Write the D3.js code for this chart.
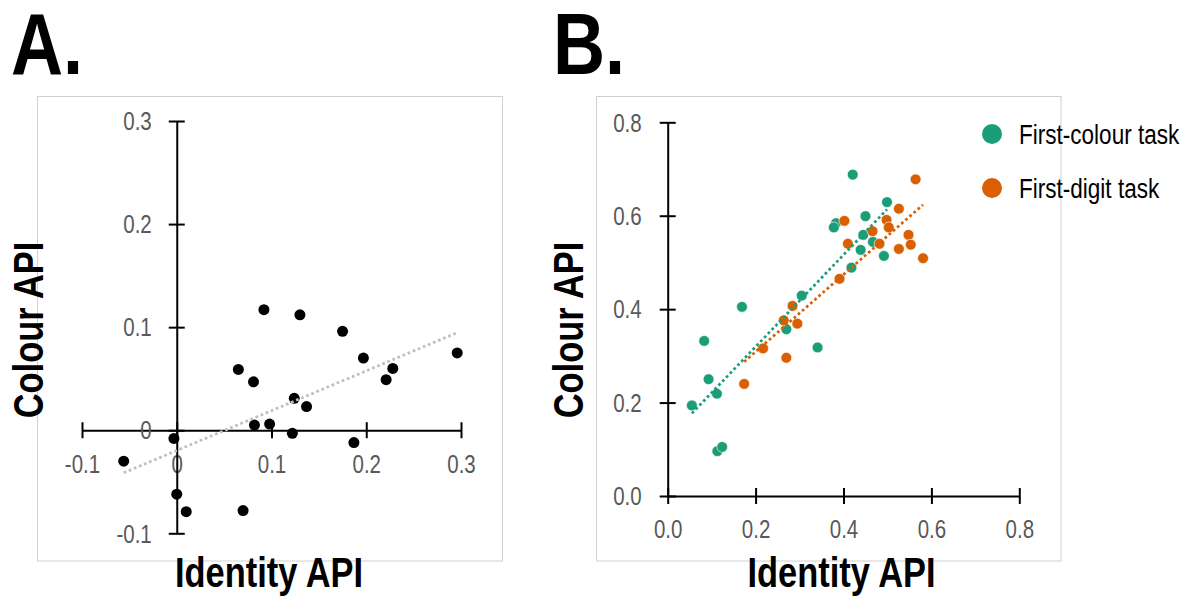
<!DOCTYPE html>
<html>
<head>
<meta charset="utf-8">
<script src="https://cdn.jsdelivr.net/npm/d3@7"></script>
<style>
  html, body { margin: 0; padding: 0; background: #fff; }
  svg { display: block; }
  text { font-family: 'Liberation Sans', Arial, sans-serif; }
</style>
</head>
<body>
<svg id="chart" width="1191" height="596"></svg>
<script>
// ---------- Data ----------
// Panel A: Identity API (x) vs Colour API (y)
const aIdentity = [0.092, 0.130, 0.175, 0.197, 0.296, 0.228, 0.221, 0.065, 0.081, 0.124,
                   0.137, 0.082, 0.098, 0.122, 0.187, -0.003, -0.056, 0.000, 0.010, 0.070];
const aColour   = [0.117, 0.112, 0.096, 0.070, 0.075, 0.060, 0.049, 0.059, 0.047, 0.031,
                   0.023, 0.005, 0.006, -0.003, -0.012, -0.008, -0.030, -0.062, -0.079, -0.078];
const aTicks = [-0.1, 0, 0.1, 0.2, 0.3];
const aTickLabels = ["-0.1", "0", "0.1", "0.2", "0.3"];

// Panel B
const seriesNames = ["First-colour task", "First-digit task"];
const seriesColors = ["#1b9e77", "#d95f02"];
const colourTaskIdentity = [0.421, 0.499, 0.450, 0.383, 0.378, 0.445, 0.467, 0.439, 0.492, 0.418,
                            0.305, 0.169, 0.270, 0.083, 0.341, 0.093, 0.112, 0.055, 0.113, 0.124];
const colourTaskColour   = [0.688, 0.629, 0.599, 0.584, 0.575, 0.559, 0.544, 0.527, 0.514, 0.489,
                            0.429, 0.405, 0.357, 0.332, 0.318, 0.250, 0.219, 0.194, 0.096, 0.105];
const digitTaskIdentity  = [0.564, 0.526, 0.402, 0.498, 0.503, 0.466, 0.548, 0.410, 0.482, 0.553,
                            0.526, 0.581, 0.391, 0.284, 0.264, 0.295, 0.217, 0.270, 0.174];
const digitTaskColour    = [0.678, 0.615, 0.589, 0.591, 0.575, 0.567, 0.559, 0.540, 0.540, 0.538,
                            0.529, 0.509, 0.465, 0.407, 0.376, 0.369, 0.316, 0.296, 0.240];
const bTicks = [0, 0.2, 0.4, 0.6, 0.8];
const bTickLabels = ["0.0", "0.2", "0.4", "0.6", "0.8"];

// ---------- Helpers ----------
const NARROW = 0.82;   // horizontal condensing (Arial Narrow look)
function regression(xs, ys) {
  const mx = d3.mean(xs), my = d3.mean(ys);
  let sxy = 0, sxx = 0;
  for (let i = 0; i < xs.length; i++) { sxy += (xs[i] - mx) * (ys[i] - my); sxx += (xs[i] - mx) ** 2; }
  const slope = sxy / sxx, icpt = my - slope * mx;
  const [x0, x1] = d3.extent(xs);
  return [[x0, icpt + slope * x0], [x1, icpt + slope * x1]];
}
function narrowText(parent, x, y, str, opts) {
  const t = parent.append("text")
    .attr("transform", `translate(${x},${y})${opts.rotate ? " rotate(-90)" : ""} scale(${NARROW},1)`)
    .attr("font-size", opts.size).attr("fill", opts.fill || "#000")
    .attr("text-anchor", opts.anchor || "start")
    .text(str);
  if (opts.bold) t.attr("font-weight", "bold");
  return t;
}

const svg = d3.select("#chart");
const TICK = 8;
const labelColor = "#595959";

function styleAxis(g, orient, offset) {
  g.select(".domain").attr("stroke", "#000").attr("stroke-width", 2);
  g.selectAll(".tick line").attr("stroke", "#000").attr("stroke-width", 2);
  const txt = g.selectAll(".tick text").attr("fill", labelColor).attr("font-size", 25)
    .attr("font-family", "'Liberation Sans', Arial, sans-serif").attr("x", 0).attr("y", 0);
  if (orient === "bottom") {
    g.selectAll(".tick line").attr("y1", -TICK).attr("y2", TICK);
    txt.attr("dy", 0).attr("transform", `translate(0,${offset}) scale(${NARROW},1)`);
  } else {
    g.selectAll(".tick line").attr("x1", -TICK).attr("x2", TICK);
    txt.attr("dy", "0.35em").attr("transform", `translate(${-offset},0) scale(${NARROW},1)`);
  }
}

// ---------- Panel A ----------
svg.append("rect").attr("x", 37.5).attr("y", 96.5).attr("width", 465).attr("height", 464.5)
  .attr("fill", "none").attr("stroke", "#d0d0d0").attr("stroke-width", 1);

const ax = d3.scaleLinear().domain([-0.1, 0.3]).range([82, 461]);
const ay = d3.scaleLinear().domain([-0.1, 0.3]).range([533.3, 121]);

const axX = svg.append("g").attr("transform", `translate(0,${ay(0)})`)
  .call(d3.axisBottom(ax).tickValues(aTicks).tickFormat((d, i) => aTickLabels[i]).tickSizeOuter(0));
styleAxis(axX, "bottom", 43);
const axY = svg.append("g").attr("transform", `translate(${ax(0)},0)`)
  .call(d3.axisLeft(ay).tickValues(aTicks).tickFormat((d, i) => aTickLabels[i]).tickSizeOuter(0));
styleAxis(axY, "left", 25);

const aPts = aIdentity.map((x, i) => [x, aColour[i]]);
svg.append("g").selectAll("circle").data(aPts).join("circle")
  .attr("cx", d => ax(d[0])).attr("cy", d => ay(d[1])).attr("r", 5.5).attr("fill", "#000");

const aFit = regression(aIdentity, aColour);
svg.append("path").attr("d", d3.line().x(d => ax(d[0])).y(d => ay(d[1]))(aFit))
  .attr("stroke", "#bfbfbf").attr("stroke-width", 2.75).attr("stroke-dasharray", "2.75,2.75")
  .attr("fill", "none");

narrowText(svg, 11, 74, "A.", { size: 88, bold: true });
narrowText(svg, 43, 330, "Colour API", { size: 42, bold: true, rotate: true, anchor: "middle" });
narrowText(svg, 269, 587, "Identity API", { size: 42, bold: true, anchor: "middle" });

// ---------- Panel B ----------
svg.append("rect").attr("x", 596.5).attr("y", 96.5).attr("width", 464.5).attr("height", 464.5)
  .attr("fill", "none").attr("stroke", "#d0d0d0").attr("stroke-width", 1);

const bx = d3.scaleLinear().domain([0, 0.8]).range([667.7, 1019.3]);
const by = d3.scaleLinear().domain([0, 0.8]).range([496, 122.3]);

const bxAxis = svg.append("g").attr("transform", `translate(0,${by(0)})`)
  .call(d3.axisBottom(bx).tickValues(bTicks).tickFormat((d, i) => bTickLabels[i]).tickSizeOuter(0));
styleAxis(bxAxis, "bottom", 42);
const byAxis = svg.append("g").attr("transform", `translate(${bx(0)},0)`)
  .call(d3.axisLeft(by).tickValues(bTicks).tickFormat((d, i) => bTickLabels[i]).tickSizeOuter(0));
styleAxis(byAxis, "left", 26);

const bSeries = [
  { xs: colourTaskIdentity, ys: colourTaskColour },
  { xs: digitTaskIdentity, ys: digitTaskColour }
];
bSeries.forEach((s, k) => {
  const pts = s.xs.map((x, i) => [x, s.ys[i]]);
  svg.append("g").selectAll("circle").data(pts).join("circle")
    .attr("cx", d => bx(d[0])).attr("cy", d => by(d[1])).attr("r", 5.4)
    .attr("fill", seriesColors[k]).attr("stroke", "#fff").attr("stroke-width", 0.6);
});
bSeries.forEach((s, k) => {
  const fit = regression(s.xs, s.ys);
  svg.append("path").attr("d", d3.line().x(d => bx(d[0])).y(d => by(d[1]))(fit))
    .attr("stroke", seriesColors[k]).attr("stroke-width", 2.75).attr("stroke-dasharray", "2.75,2.75")
    .attr("fill", "none");
});

// Legend
const leg = svg.append("g");
seriesNames.forEach((name, k) => {
  const cy = 134 + k * 54;
  leg.append("circle").attr("cx", 992).attr("cy", cy).attr("r", 10).attr("fill", seriesColors[k]);
  narrowText(leg, 1019, cy + 9.5, name, { size: 27.5 });
});

narrowText(svg, 553, 74, "B.", { size: 88, bold: true });
narrowText(svg, 583, 330, "Colour API", { size: 42, bold: true, rotate: true, anchor: "middle" });
narrowText(svg, 841.5, 587, "Identity API", { size: 42, bold: true, anchor: "middle" });
</script>
</body>
</html>
